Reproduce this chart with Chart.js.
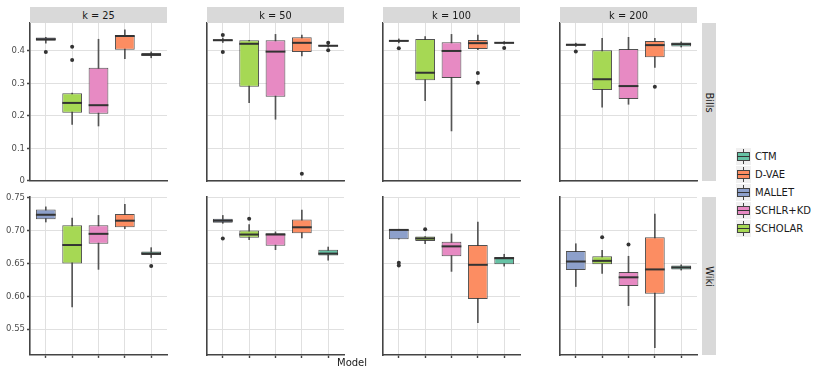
<!DOCTYPE html>
<html>
<head>
<meta charset="utf-8">
<script src="https://cdn.jsdelivr.net/npm/chart.js@4.4.1/dist/chart.umd.min.js"></script>
<style>
  body { margin: 0; background: #fff; font-family: "DejaVu Sans", sans-serif; }
  #wrap { position: relative; width: 830px; height: 376px; overflow: hidden; }
  canvas { position: absolute; }
  .strip { position: absolute; background: #d9d9d9; color: #1a1a1a; font-size: 9.8px;
           display: flex; align-items: center; justify-content: center; }
  .strip.side span { transform: rotate(90deg); white-space: nowrap; }
  .title { position: absolute; font-size: 10px; color: #1a1a1a; }
  .leg { position: absolute; left: 736px; height: 17px; display: flex; align-items: center; font-size: 10px; color: #1a1a1a; }
  .key { position: relative; width: 15px; height: 17px; background: #f0f0f0; margin-right: 4px; }
  .key .wh { position: absolute; left: 7px; top: 1px; width: 1px; height: 15px; background: #444; }
  .key .bx { position: absolute; left: 1px; top: 4px; width: 11px; height: 7px; border: 1px solid #444; }
  .key .md { position: absolute; left: 1px; top: 8px; width: 13px; height: 1px; background: #333; }
</style>
</head>
<body>
<div id="wrap"></div>
<script>
// models in x order, with Set2 fills
var models = ['MALLET', 'SCHOLAR', 'SCHLR+KD', 'D-VAE', 'CTM'];
var colors = ['#8da0cb', '#a6d854', '#e78ac3', '#fc8d62', '#66c2a5'];
var legendOrder = ['CTM', 'D-VAE', 'MALLET', 'SCHLR+KD', 'SCHOLAR'];
var kLabels = ['k = 25', 'k = 50', 'k = 100', 'k = 200'];
var datasetsNames = ['Bills', 'Wiki'];
var billsTicks = [0, 0.1, 0.2, 0.3, 0.4];
var wikiTicks = [0.55, 0.60, 0.65, 0.70, 0.75];

// Bills: one row per k, columns follow models
var billsLow = [
  [0.424, 0.174, 0.169, 0.376, 0.379],
  [0.426, 0.241, 0.190, 0.385, 0.412],
  [0.425, 0.247, 0.154, 0.404, 0.421],
  [0.414, 0.227, 0.236, 0.349, 0.412]
];
var billsQ1 = [
  [0.431, 0.210, 0.207, 0.404, 0.385],
  [0.431, 0.290, 0.259, 0.397, 0.414],
  [0.429, 0.310, 0.317, 0.406, 0.423],
  [0.416, 0.280, 0.252, 0.381, 0.414]
];
var billsMed = [
  [0.436, 0.240, 0.233, 0.446, 0.388],
  [0.433, 0.422, 0.398, 0.425, 0.416],
  [0.431, 0.333, 0.400, 0.424, 0.425],
  [0.419, 0.313, 0.292, 0.418, 0.421]
];
var billsQ3 = [
  [0.441, 0.270, 0.348, 0.447, 0.394],
  [0.436, 0.433, 0.433, 0.442, 0.418],
  [0.434, 0.437, 0.427, 0.434, 0.427],
  [0.422, 0.402, 0.406, 0.431, 0.426]
];
var billsHigh = [
  [0.442, 0.270, 0.436, 0.465, 0.397],
  [0.440, 0.433, 0.451, 0.449, 0.422],
  [0.437, 0.444, 0.451, 0.449, 0.429],
  [0.424, 0.439, 0.442, 0.439, 0.428]
];
// [k index, model index, value]
var billsOutliers = [
  [0, 0, 0.397], [0, 1, 0.413], [0, 1, 0.372],
  [1, 0, 0.449], [1, 0, 0.397], [1, 3, 0.022], [1, 4, 0.425], [1, 4, 0.402],
  [2, 0, 0.408], [2, 3, 0.332], [2, 3, 0.302], [2, 4, 0.409],
  [3, 0, 0.398], [3, 3, 0.290]
];

// Wiki
var wikiLow = [
  [0.713, 0.584, 0.641, 0.703, 0.659],
  [0.711, 0.686, 0.671, 0.689, 0.655],
  [0.687, 0.680, 0.638, 0.560, 0.646],
  [0.615, 0.635, 0.586, 0.522, 0.640]
];
var wikiQ1 = [
  [0.717, 0.650, 0.680, 0.705, 0.663],
  [0.712, 0.689, 0.677, 0.696, 0.662],
  [0.687, 0.684, 0.661, 0.596, 0.649],
  [0.640, 0.649, 0.616, 0.604, 0.641]
];
var wikiMed = [
  [0.724, 0.678, 0.695, 0.715, 0.665],
  [0.715, 0.694, 0.694, 0.705, 0.665],
  [0.701, 0.688, 0.676, 0.648, 0.658],
  [0.653, 0.654, 0.629, 0.641, 0.644]
];
var wikiQ3 = [
  [0.732, 0.708, 0.708, 0.725, 0.668],
  [0.718, 0.700, 0.696, 0.717, 0.671],
  [0.702, 0.691, 0.683, 0.678, 0.660],
  [0.669, 0.661, 0.637, 0.690, 0.647]
];
var wikiHigh = [
  [0.736, 0.719, 0.723, 0.740, 0.674],
  [0.723, 0.709, 0.698, 0.731, 0.675],
  [0.702, 0.691, 0.695, 0.713, 0.664],
  [0.680, 0.670, 0.661, 0.725, 0.648]
];
var wikiOutliers = [
  [0, 4, 0.646],
  [1, 0, 0.688], [1, 1, 0.718],
  [2, 0, 0.651], [2, 0, 0.647], [2, 1, 0.702],
  [3, 1, 0.690], [3, 2, 0.679]
];

var rows = [
  { low: billsLow, q1: billsQ1, med: billsMed, q3: billsQ3, high: billsHigh, out: billsOutliers,
    ticks: billsTicks, min: 0, max: 0.486, fmt: function(v) { return v === 0 ? '0' : v.toFixed(1); } },
  { low: wikiLow, q1: wikiQ1, med: wikiMed, q3: wikiQ3, high: wikiHigh, out: wikiOutliers,
    ticks: wikiTicks, min: 0.511, max: 0.751, fmt: function(v) { return v.toFixed(2); } }
];

var colLeft = [30, 207, 383, 560];
var rowTop = [23, 197];
var panelW = 137, panelH = 158;
var wrap = document.getElementById('wrap');

function addDiv(cls, css, html) {
  var d = document.createElement('div');
  d.className = cls;
  d.style.cssText = css;
  d.innerHTML = html || '';
  wrap.appendChild(d);
  return d;
}

function makePanel(r, c) {
  var row = rows[r];
  var canvas = document.createElement('canvas');
  canvas.width = 30 + panelW + 4;
  canvas.height = 8 + panelH + 5 + 2;
  canvas.style.left = (colLeft[c] - 30) + 'px';
  canvas.style.top = (rowTop[r] - 8) + 'px';
  wrap.appendChild(canvas);

  var pos = [1, 2, 3, 4, 5];
  var boxes = pos.map(function(x, i) { return { x: x, y: [row.q1[c][i], row.q3[c][i]] }; });
  var whiskers = pos.map(function(x, i) { return { x: x, y: [row.low[c][i], row.high[c][i]] }; });
  var outliers = row.out.filter(function(o) { return o[0] === c; })
    .map(function(o) { return { x: o[1] + 1, y: o[2] }; });
  var medians = row.med[c];

  var medianPlugin = {
    id: 'medians',
    afterDatasetsDraw: function(chart) {
      var meta = chart.getDatasetMeta(1);
      var ys = chart.scales.y;
      var ctx = chart.ctx;
      ctx.save();
      ctx.strokeStyle = '#333';
      ctx.lineWidth = 2;
      meta.data.forEach(function(bar, i) {
        var py = ys.getPixelForValue(medians[i]);
        ctx.beginPath();
        ctx.moveTo(bar.x - bar.width / 2, py);
        ctx.lineTo(bar.x + bar.width / 2, py);
        ctx.stroke();
      });
      ctx.restore();
    }
  };

  new Chart(canvas, {
    type: 'bar',
    data: {
      datasets: [
        {
          type: 'line', data: outliers, showLine: false, order: 0,
          pointRadius: 2, pointBackgroundColor: '#333', pointBorderColor: '#333', pointBorderWidth: 0
        },
        {
          data: boxes, order: 1, grouped: false,
          backgroundColor: colors, borderColor: 'rgba(51,51,51,0.85)', borderWidth: 1, borderSkipped: false,
          categoryPercentage: 1, barPercentage: 0.75
        },
        {
          data: whiskers, order: 2, grouped: false,
          backgroundColor: '#555', borderWidth: 0, barThickness: 1
        }
      ]
    },
    options: {
      responsive: false,
      animation: false,
      events: [],
      layout: { autoPadding: false, padding: { top: 8, right: 4, bottom: 2, left: 0 } },
      plugins: { legend: { display: false }, tooltip: { enabled: false } },
      scales: {
        x: {
          type: 'linear', min: 0.4, max: 5.6, offset: false,
          afterBuildTicks: function(scale) { scale.ticks = pos.map(function(v) { return { value: v }; }); },
          afterFit: function(scale) { scale.height = 5; },
          ticks: { display: false },
          grid: { color: '#e0e0e0', lineWidth: 1, offset: false, drawTicks: r === 1, tickLength: 3, tickColor: '#444', tickWidth: 1.4 },
          border: { display: true, color: '#444', width: 1.6 }
        },
        y: {
          min: row.min, max: row.max,
          afterBuildTicks: function(scale) { scale.ticks = row.ticks.map(function(v) { return { value: v }; }); },
          afterFit: function(scale) { scale.width = 30; },
          ticks: {
            display: c === 0, padding: 2, color: '#4d4d4d',
            font: { family: 'DejaVu Sans', size: 8.5 },
            callback: function(v) { return row.fmt(v); }
          },
          grid: { color: '#e0e0e0', lineWidth: 1, drawTicks: c === 0, tickLength: 3, tickColor: '#444', tickWidth: 1.4 },
          border: { display: true, color: '#444', width: 1.6 }
        }
      }
    },
    plugins: [medianPlugin]
  });
}

for (var r = 0; r < 2; r++) {
  for (var c = 0; c < 4; c++) makePanel(r, c);
}

// facet strips
kLabels.forEach(function(k, c) {
  addDiv('strip', 'left:' + colLeft[c] + 'px;top:7px;width:' + panelW + 'px;height:16px;', '<span>' + k + '</span>');
});
datasetsNames.forEach(function(n, r) {
  addDiv('strip side', 'left:702px;top:' + rowTop[r] + 'px;width:14px;height:' + panelH + 'px;', '<span>' + n + '</span>');
});

// axis title
addDiv('title', 'left:337px;top:357px;', 'Model');

// legend
legendOrder.forEach(function(name, i) {
  var col = colors[models.indexOf(name)];
  addDiv('leg', 'top:' + (148 + i * 18.1) + 'px;',
    '<div class="key"><div class="wh"></div><div class="bx" style="background:' + col + '"></div><div class="md"></div></div>' + name);
});
</script>
</body>
</html>
